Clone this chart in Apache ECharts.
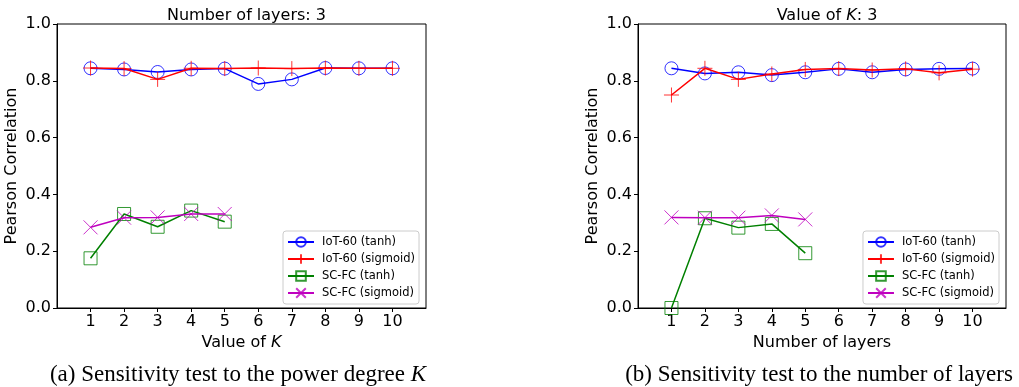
<!DOCTYPE html>
<html>
<head>
<meta charset="utf-8">
<script src="https://cdn.jsdelivr.net/npm/echarts@6/dist/echarts.min.js"></script>
<style>
  html, body { margin: 0; padding: 0; background: #fff; }
  #chart { width: 1019px; height: 387px; }
</style>
</head>
<body>
<div id="chart"></div>
<script>
// x positions (1..10) shared by both panels
const xTicks = [1, 2, 3, 4, 5, 6, 7, 8, 9, 10];

// (a) sweep over K, number of layers = 3
const iotTanhK = [0.844, 0.840, 0.831, 0.840, 0.843, 0.789, 0.805, 0.845, 0.844, 0.844];
const iotSigK = [0.845, 0.843, 0.805, 0.844, 0.843, 0.845, 0.843, 0.845, 0.844, 0.844];
const scTanhK = [0.175, 0.331, 0.286, 0.343, 0.304];
const scSigK = [0.284, 0.318, 0.319, 0.331, 0.331];

// (b) sweep over number of layers, K = 3
const iotTanhL = [0.844, 0.826, 0.830, 0.820, 0.830, 0.842, 0.830, 0.840, 0.842, 0.843];
const iotSigL = [0.750, 0.844, 0.805, 0.824, 0.840, 0.843, 0.838, 0.842, 0.828, 0.841];
const scTanhL = [0.0, 0.316, 0.283, 0.296, 0.193];
const scSigL = [0.319, 0.318, 0.318, 0.326, 0.312];

const seriesNames = ["IoT-60 (tanh)", "IoT-60 (sigmoid)", "SC-FC (tanh)", "SC-FC (sigmoid)"];

const FONT = "DejaVu Sans";
const FS = 16;

const PLUS = "path://M0,5L10,5M5,0L5,10";
const CROSS = "path://M0,0L10,10M0,10L10,0";

const styles = [
  { color: "#0000ff", symbol: "circle", size: 13 },
  { color: "#ff0000", symbol: PLUS, size: 15 },
  { color: "#008000", symbol: "rect", size: 13 },
  { color: "#bf00bf", symbol: CROSS, size: 14 },
];

function zip(xs, ys) {
  return ys.map((y, i) => [xs[i], y]);
}

function makeSeries(values, idx, gridIdx) {
  const s = styles[idx];
  return {
    name: seriesNames[idx],
    type: "line",
    xAxisIndex: gridIdx,
    yAxisIndex: gridIdx,
    data: zip(xTicks, values),
    symbol: s.symbol,
    symbolSize: s.size,
    showSymbol: true,
    lineStyle: { color: s.color, width: 1.5 },
    itemStyle: {
      color: "rgba(255,255,255,0)",
      borderColor: s.color,
      borderWidth: 1,
      opacity: 0.8,
    },
    emphasis: { disabled: true },
    z: 2 + idx,
  };
}

function xAxis(gridIdx, label) {
  return {
    type: "value",
    gridIndex: gridIdx,
    min: 0,
    max: 11,
    interval: 1,
    name: label,
    nameLocation: "middle",
    nameGap: 23,
    nameTextStyle: {
      fontFamily: FONT,
      fontSize: FS,
      color: "#000",
      rich: { i: { fontFamily: FONT, fontSize: FS, fontStyle: "italic", color: "#000" } },
    },
    axisLine: { lineStyle: { color: "#000", width: 1 } },
    axisTick: { show: true, inside: false, length: 4, lineStyle: { color: "#000" }, customValues: xTicks },
    axisLabel: { fontFamily: FONT, fontSize: FS, color: "#000", margin: 6, customValues: xTicks },
    splitLine: { show: false },
  };
}

function yAxis(gridIdx) {
  return {
    type: "value",
    gridIndex: gridIdx,
    min: 0,
    max: 1,
    interval: 0.2,
    name: "Pearson Correlation",
    nameLocation: "middle",
    nameGap: 37,
    nameTextStyle: { fontFamily: FONT, fontSize: FS, color: "#000" },
    axisLine: { show: true, lineStyle: { color: "#000", width: 1 } },
    axisTick: { show: true, inside: false, length: 4, lineStyle: { color: "#000" } },
    axisLabel: {
      fontFamily: FONT,
      fontSize: FS,
      color: "#000",
      margin: 6,
      formatter: (v) => v.toFixed(1),
    },
    splitLine: { show: false },
  };
}

function legend(pos) {
  return Object.assign({
    orient: "vertical",
    top: 231,
    padding: [5, 4, 5, 4],
    itemWidth: 26,
    itemHeight: 12,
    itemGap: 5,
    borderColor: "#cccccc",
    borderWidth: 1,
    borderRadius: 3,
    backgroundColor: "#fff",
    textStyle: { fontFamily: FONT, fontSize: 11.5, color: "#000", padding: [0, 0, 0, 3] },
    selectedMode: false,
    data: seriesNames,
  }, pos);
}

const captionStyle = {
  fontFamily: "Liberation Serif",
  fontSize: 23,
  fontWeight: "normal",
  color: "#000",
  rich: { i: { fontFamily: "Liberation Serif", fontSize: 23, fontStyle: "italic", color: "#000" } },
};

const titleStyle = {
  fontFamily: FONT,
  fontSize: FS,
  fontWeight: "normal",
  color: "#000",
  rich: { i: { fontFamily: FONT, fontSize: FS, fontStyle: "italic", color: "#000" } },
};

const chart = echarts.init(document.getElementById("chart"), null, { renderer: "canvas" });

chart.setOption({
  animation: false,
  backgroundColor: "#fff",
  title: [
    { text: "Number of layers: 3", left: 241.5, top: 3, textAlign: "center", textStyle: titleStyle },
    { text: "Value of {i|K}: 3", left: 822, top: 3, textAlign: "center", textStyle: titleStyle },
    { text: "(a) Sensitivity test to the power degree {i|K}", left: 233, top: 358, textAlign: "center", textStyle: captionStyle },
    { text: "(b) Sensitivity test to the number of layers", left: 814, top: 358, textAlign: "center", textStyle: captionStyle },
  ],
  grid: [
    { left: 57, right: 593, top: 24, bottom: 79, show: true, borderColor: "#000", borderWidth: 1 },
    { left: 638, right: 13, top: 24, bottom: 79, show: true, borderColor: "#000", borderWidth: 1 },
  ],
  xAxis: [xAxis(0, "Value of {i|K}"), xAxis(1, "Number of layers")],
  yAxis: [yAxis(0), yAxis(1)],
  legend: [
    legend({ left: 283 }),
    legend({ right: 20 }),
  ],
  series: [
    makeSeries(iotTanhK, 0, 0),
    makeSeries(iotSigK, 1, 0),
    makeSeries(scTanhK, 2, 0),
    makeSeries(scSigK, 3, 0),
    makeSeries(iotTanhL, 0, 1),
    makeSeries(iotSigL, 1, 1),
    makeSeries(scTanhL, 2, 1),
    makeSeries(scSigL, 3, 1),
  ],
});
</script>
</body>
</html>
